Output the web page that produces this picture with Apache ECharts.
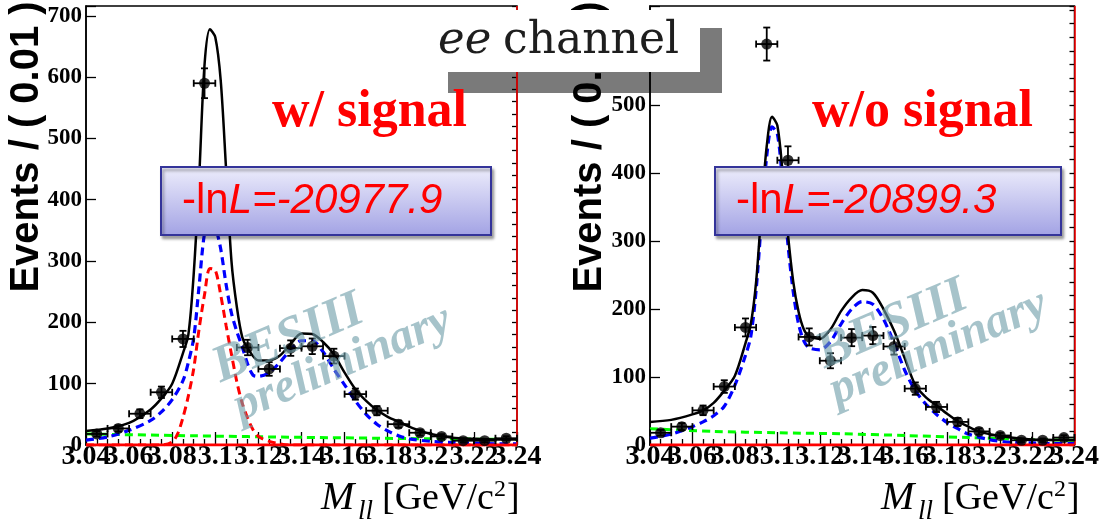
<!DOCTYPE html>
<html>
<head>
<meta charset="utf-8">
<script src="https://cdn.jsdelivr.net/npm/echarts@6.0.0/dist/echarts.min.js"></script>
<style>
html,body{margin:0;padding:0;background:#ffffff;}
#chart{width:1102px;height:524px;}
</style>
</head>
<body>
<div id="chart"></div>
<script>
// ---------------- data ----------------
const binCenters = [3.045,3.055,3.065,3.075,3.085,3.095,3.105,3.115,3.125,3.135,3.145,3.155,3.165,3.175,3.185,3.195,3.205,3.215,3.225,3.235];
const eventCounts = [18,27,51,86,173,590,419,159,124,158,161,145,83,56,34,20,14,7,7,11];
const eventErrors = [4.2,5.2,7.1,9.3,13.2,24.3,20.5,12.6,11.1,12.6,12.7,12.0,9.1,7.5,5.8,4.5,3.7,2.6,2.6,3.3];
const binHalfWidth = 0.005;

const xMin = 3.04, xMax = 3.24, xStep = 0.02;
const yStep = 100, yMinorStep = 20;
const yMaxSignal = 716, yMaxNoSignal = 646;

// "w/ signal" fit components
const sigFitTotal = [[3.04,23],[3.05,27],[3.06,36],[3.07,58],[3.075,76],[3.08,100],[3.085,150],[3.0875,180],[3.09,280],[3.0925,435],[3.095,620],[3.0975,678],[3.1,665],[3.1025,595],[3.105,450],[3.1075,300],[3.11,225],[3.1125,176],[3.115,158],[3.12,138],[3.125,138],[3.13,146],[3.135,165],[3.14,182],[3.145,181],[3.15,168],[3.155,148],[3.16,118],[3.165,91],[3.17,72],[3.175,57],[3.18,46],[3.185,38],[3.19,30],[3.195,23],[3.2,18],[3.21,12],[3.22,10],[3.23,9],[3.24,9]];
const sigFitBkg = [[3.04,8],[3.05,13],[3.06,24],[3.07,40],[3.075,54],[3.08,74],[3.085,105],[3.0875,135],[3.09,175],[3.0925,260],[3.095,345],[3.0975,368],[3.1,355],[3.1025,320],[3.105,262],[3.1075,215],[3.11,185],[3.1125,160],[3.115,132],[3.1175,114],[3.12,112],[3.125,118],[3.13,135],[3.135,156],[3.14,170],[3.145,170],[3.15,152],[3.155,124],[3.16,98],[3.165,72],[3.17,50],[3.175,34],[3.18,23],[3.185,15],[3.19,10],[3.2,6],[3.21,4],[3.22,3],[3.23,2],[3.24,2]];
const sigFitSignal = [[3.04,0],[3.075,0],[3.08,5],[3.0825,18],[3.085,45],[3.0875,80],[3.09,125],[3.0925,190],[3.095,245],[3.0975,288],[3.1,285],[3.1025,245],[3.105,195],[3.1075,148],[3.11,103],[3.1125,68],[3.115,44],[3.1175,25],[3.12,14],[3.125,6],[3.13,2],[3.135,0],[3.24,0]];
const sigFitFlat = [[3.04,18],[3.09,15],[3.14,12.5],[3.19,10.5],[3.24,9]];

// "w/o signal" fit components
const noSigFitTotal = [[3.04,34],[3.05,37],[3.06,45],[3.065,51],[3.07,62],[3.075,80],[3.08,102],[3.085,150],[3.0875,178],[3.09,240],[3.0925,345],[3.095,440],[3.0975,483],[3.1,470],[3.1025,400],[3.105,310],[3.1075,240],[3.11,196],[3.1125,170],[3.115,160],[3.12,156],[3.125,170],[3.13,197],[3.135,217],[3.14,228],[3.145,224],[3.15,200],[3.155,168],[3.16,128],[3.165,88],[3.17,70],[3.175,58],[3.18,46],[3.185,35],[3.19,27],[3.195,20],[3.2,16],[3.21,11],[3.22,8],[3.23,7.5],[3.24,7]];
const noSigFitBkg = [[3.04,10],[3.05,16],[3.06,27],[3.065,34],[3.07,43],[3.075,57],[3.08,88],[3.085,132],[3.0875,160],[3.09,228],[3.0925,330],[3.095,425],[3.0975,468],[3.1,458],[3.1025,385],[3.105,295],[3.1075,225],[3.11,178],[3.1125,153],[3.115,143],[3.12,140],[3.125,152],[3.13,178],[3.135,200],[3.14,211],[3.145,207],[3.15,185],[3.155,150],[3.16,110],[3.165,80],[3.17,60],[3.175,45],[3.18,33],[3.185,24],[3.19,16],[3.2,8],[3.21,4],[3.22,3],[3.23,2],[3.24,2]];
const noSigFitFlat = [[3.04,24],[3.07,20],[3.1,18],[3.13,16.5],[3.16,14],[3.19,11],[3.22,8],[3.24,7]];

const zeroComponent = [[3.04,0],[3.24,0]];

const panelTags = ['w/ signal', 'w/o signal'];
const nllValues = ['-20977.9', '-20899.3'];
const yTitle = 'Events / ( 0.01 )';
const channelItalic = 'ee', channelText = 'channel';
const watermark = ['BESIII', 'preliminary'];

// ---------------- chart ----------------
const chart = echarts.init(document.getElementById('chart'), null, {renderer:'canvas'});

const panels = [
  {left:86, yMax:yMaxSignal, total:sigFitTotal, bkg:sigFitBkg, sig:sigFitSignal, flat:sigFitFlat},
  {left:650, yMax:yMaxNoSignal, total:noSigFitTotal, bkg:noSigFitBkg, sig:null, flat:noSigFitFlat}
];

const pointData = binCenters.map((x,i)=>[x, eventCounts[i], eventErrors[i]]);

const grids = [], xAxes = [], yAxes = [], series = [];
const serif = 'Liberation Serif', sans = 'Liberation Sans';
const fmtX = v => String(parseFloat(v.toFixed(2)));
const isEdge = v => Math.abs(v - xMin) < 1e-6 || Math.abs(v - xMax) < 1e-6;
const xLabelFont = {fontFamily:serif, fontWeight:'bold', fontSize:28, color:'#000'};

panels.forEach((p, gi) => {
  grids.push({left:p.left, top:6, width:431, height:439, show:true, borderColor:'#000', borderWidth:1.5, backgroundColor:'transparent'});
  // main x axis: line, ticks, and the two end labels
  xAxes.push({
    type:'value', gridIndex:gi, position:'bottom', min:xMin, max:xMax, interval:xStep,
    axisLine:{show:true, onZero:false, lineStyle:{color:'#000', width:1.5}},
    axisTick:{show:true, inside:true, length:13, lineStyle:{color:'#000', width:1.3}},
    minorTick:{show:true, splitNumber:4, length:6, lineStyle:{color:'#000', width:1.3}},
    splitLine:{show:false}, minorSplitLine:{show:false},
    axisLabel:Object.assign({show:true, margin:-2, hideOverlap:false, showMinLabel:true, showMaxLabel:true,
      formatter:v => isEdge(v) ? fmtX(v) : ''}, xLabelFont)
  });
});
panels.forEach((p, gi) => {
  // companion x axis carrying the inner tick labels
  xAxes.push({
    type:'value', gridIndex:gi, position:'bottom', offset:0, min:xMin, max:xMax, interval:xStep,
    axisLine:{show:false}, axisTick:{show:false}, splitLine:{show:false},
    axisLabel:Object.assign({show:true, margin:-2, hideOverlap:false, showMinLabel:false, showMaxLabel:false,
      formatter:v => isEdge(v) ? '' : fmtX(v)}, xLabelFont)
  });
});
// main y axes (index 0,1) then minor-tick y axes (2,3)
panels.forEach((p, gi) => {
  yAxes.push({
    type:'value', gridIndex:gi, min:0, max:p.yMax, interval:yStep,
    axisLine:{show:true, onZero:false, lineStyle:{color:'#000', width:1.5}},
    axisTick:{show:true, inside:true, length:10, lineStyle:{color:'#000', width:1.3}},
    minorTick:{show:false}, splitLine:{show:false},
    axisLabel:{show:true, margin:4, showMinLabel:true, fontFamily:serif, fontWeight:'bold', fontSize:23, color:'#000',
      formatter:v=> (Math.abs(v % yStep) < 1e-6 ? String(v) : '')}
  });
});
panels.forEach((p, gi) => {
  yAxes.push({
    type:'value', gridIndex:gi, min:0, max:p.yMax, interval:yMinorStep,
    axisLine:{show:false}, axisLabel:{show:false}, splitLine:{show:false},
    axisTick:{show:true, inside:true, length:5, lineStyle:{color:'#000', width:1.3}}
  });
});

function curve(data, gi, color, dashed, width, z){
  return {type:'line', xAxisIndex:gi, yAxisIndex:gi, data:data, showSymbol:false, symbol:'none',
    smooth:0.3, silent:true, z:z, animation:false,
    lineStyle:{color:color, width:width, type: dashed ? [8,5] : 'solid'}};
}

function errRender(params, api){
  const x = api.value(0), y = api.value(1), e = api.value(2);
  const top = api.coord([x, y+e]), bot = api.coord([x, y-e]);
  const l = api.coord([x-binHalfWidth, y]), r = api.coord([x+binHalfWidth, y]);
  const cap = 3.5, st = {stroke:'#000', lineWidth:1.8};
  const ln = (x1,y1,x2,y2)=>({type:'line', shape:{x1,y1,x2,y2}, style:st});
  return {type:'group', children:[
    ln(top[0],top[1],bot[0],bot[1]),
    ln(l[0],l[1],r[0],r[1]),
    ln(top[0]-cap,top[1],top[0]+cap,top[1]),
    ln(bot[0]-cap,bot[1],bot[0]+cap,bot[1]),
    ln(l[0],l[1]-cap,l[0],l[1]+cap),
    ln(r[0],r[1]-cap,r[0],r[1]+cap)
  ]};
}

panels.forEach((p, gi) => {
  series.push(curve(p.flat, gi, '#00ff00', true, 3, 3));
  if (p.sig) series.push(curve(p.sig, gi, '#ff0000', true, 3, 3));
  series.push(curve(p.bkg, gi, '#0000ff', true, 3.2, 4));
  series.push(curve(p.total, gi, '#000000', false, 2.5, 5));
  series.push({type:'line', xAxisIndex:gi, yAxisIndex:gi, data:zeroComponent, showSymbol:false, symbol:'none',
    silent:true, z:5, animation:false, lineStyle:{color:'#ff0000', width:3},
    markLine:{silent:true, symbol:['none','none'], label:{show:false}, animation:false,
      lineStyle:{color:'#ff0000', width:1.5, type:'solid'}, data:[{xAxis:xMax}]}});
  series.push({type:'custom', xAxisIndex:gi, yAxisIndex:gi, data:pointData, renderItem:errRender,
    encode:{x:0, y:1}, silent:true, z:6, animation:false});
  series.push({type:'scatter', xAxisIndex:gi, yAxisIndex:gi, data:pointData.map(d=>[d[0],d[1]]),
    symbol:'circle', symbolSize:11, itemStyle:{color:'#000'}, silent:true, z:7, animation:false});
});

// ---------------- annotations ----------------
function txt(str, x, baseline, size, o){
  o = o || {};
  const fam = o.family || serif;
  const k = fam === sans ? 0.346 : 0.33;
  return {type:'text', z:o.z || 20, x:x, y:baseline - k*size, silent:true,
    style:{text:str, fontFamily:fam, fontSize:size, fontStyle:o.italic?'italic':'normal',
      fontWeight:o.bold?'bold':'normal', fill:o.color || '#000', align:'left', verticalAlign:'middle',
      textAlign:'left', textVerticalAlign:'middle'}};
}
function rotTxt(str, x, baseline, size, deg, o){
  const k = 0.33;
  return {type:'text', z:o.z, x:x, y:baseline, rotation:deg*Math.PI/180, silent:true,
    style:{text:str, x:0, y:-k*size, fontFamily:o.family, fontSize:size, fontStyle:o.italic?'italic':'normal',
      fontWeight:o.bold?'bold':'normal', fill:o.color, opacity:o.opacity==null?1:o.opacity,
      shadowColor:o.color, shadowBlur:o.blur||0,
      align:o.align||'left', verticalAlign:'middle', textAlign:o.align||'left', textVerticalAlign:'middle'}};
}

const graphics = [];
const lavender = {type:'linear', x:0, y:0, x2:0, y2:1, colorStops:[{offset:0, color:'#eeeefc'},{offset:1, color:'#a2a2e4'}]};
const boxGeom = [{x:161, w:330, tx:182}, {x:715, w:346, tx:736}];
const wmPos = [{bx:222, by:386, px:242, py:424}, {bx:826, by:372, px:838, py:408}];
const tagX = [272, 812];
const titleX = [27, 590];
const mOff = [0, 560];

panels.forEach((p, gi) => {
  // y-axis title
  graphics.push({type:'text', z:5, x:titleX[gi], y:147, rotation:Math.PI/2, silent:true,
    style:{text:yTitle, fontFamily:sans, fontWeight:'bold', fontSize:40, fill:'#000',
      align:'center', verticalAlign:'middle', textAlign:'center', textVerticalAlign:'middle'}});
  // watermark
  const w = wmPos[gi];
  const wmStyle = {z:12, family:serif, italic:true, bold:true, color:'#6f9ea9', opacity:0.62, blur:3};
  graphics.push(rotTxt(watermark[0], w.bx, w.by, 52, 23, wmStyle));
  graphics.push(rotTxt(watermark[1], w.px, w.py, 48, 23, wmStyle));
  // tag text
  graphics.push(txt(panelTags[gi], tagX[gi], 130, 52, {bold:true, color:'#ff0000', z:20}));
  // likelihood box
  const b = boxGeom[gi];
  graphics.push({type:'rect', z:20, silent:true, shape:{x:b.x, y:167, width:b.w, height:68},
    style:{fill:lavender, stroke:'#34349a', lineWidth:2, shadowColor:'rgba(0,0,0,0.35)', shadowBlur:3, shadowOffsetX:2, shadowOffsetY:3}});
  graphics.push({type:'text', z:21, x:b.tx, y:216 - 0.346*42, silent:true,
    style:{text:'{n|-ln}{i|L=' + nllValues[gi] + '}', align:'left', verticalAlign:'middle', textAlign:'left', textVerticalAlign:'middle',
      rich:{n:{fontFamily:sans, fontSize:42, fill:'#ff0000', color:'#ff0000'},
            i:{fontFamily:sans, fontSize:42, fontStyle:'italic', fill:'#ff0000', color:'#ff0000'}}}});
  // x-axis title  M_ll [GeV/c^2]
  const o = mOff[gi];
  graphics.push(txt('M', 321+o, 512, 40, {italic:true, z:20}));
  graphics.push(txt('ll', 358+o, 521, 27, {italic:true, z:20}));
  graphics.push(txt('[GeV/c', 382+o, 512, 38, {z:20}));
  graphics.push(txt('2', 494+o, 498, 24, {z:20}));
  graphics.push(txt(']', 507+o, 512, 38, {z:20}));
});

// "ee channel" label with drop shadow
graphics.push({type:'rect', z:-1, silent:true, shape:{x:448, y:28, width:274, height:65}, style:{fill:'#7a7a7a'}});
graphics.push({type:'rect', z:30, silent:true, shape:{x:428, y:10, width:272, height:62}, style:{fill:'#ffffff'}});
graphics.push(txt(channelItalic, 438, 56, 45, {family:'DejaVu Serif', italic:true, color:'#1e1e1e', z:31}));
graphics.push(txt(channelText, 503, 56, 44, {family:'DejaVu Serif', color:'#1e1e1e', z:31}));

chart.setOption({
  animation:false,
  backgroundColor:'#ffffff',
  grid:grids, xAxis:xAxes, yAxis:yAxes, series:series,
  graphic:{elements:graphics}
});
</script>
</body>
</html>
